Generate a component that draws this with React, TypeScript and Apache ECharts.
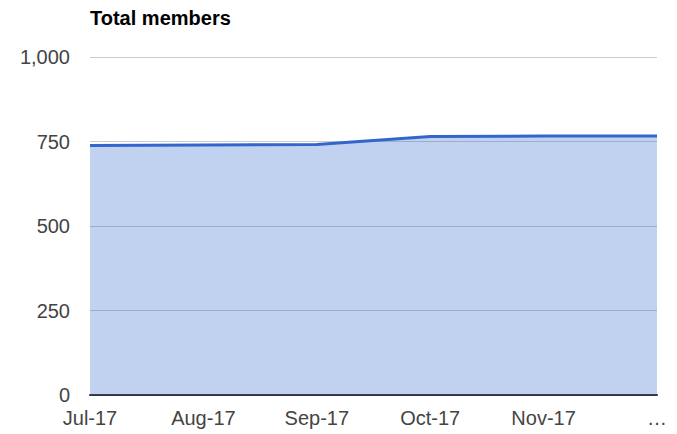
import React, { useEffect, useRef } from "react";
import * as echarts from "echarts";

const categories = ["Jul-17", "Aug-17", "Sep-17", "Oct-17", "Nov-17", "Dec-17"];
const totalMembers = [738, 740, 741, 765, 766, 766];
const yTicks = { min: 0, max: 1000, interval: 250 };

export default function App() {
  const ref = useRef<HTMLDivElement>(null);
  useEffect(() => {
    if (!ref.current) return;
    const chart = echarts.init(ref.current, null, { renderer: "svg" });
    chart.setOption({
      animation: false,
      title: {
        text: "Total members",
        left: 90,
        top: 8,
        padding: 0,
        textStyle: { fontFamily: "Liberation Sans, Arial, sans-serif", fontSize: 20, fontWeight: "bold", color: "#000" },
      },
      grid: { left: 90, right: 20, top: 57, bottom: 39, containLabel: false },
      xAxis: {
        type: "category",
        data: categories,
        boundaryGap: false,
        axisLine: { show: true, lineStyle: { color: "#333", width: 2 } },
        axisTick: { show: false },
        axisLabel: {
          margin: 13,
          fontFamily: "Liberation Sans, Arial, sans-serif",
          fontSize: 20,
          color: "#444",
          showMaxLabel: true,
          showMinLabel: true,
          interval: 0,
          formatter: (v: string, i: number) => (i === categories.length - 1 ? "…" : v),
        },
        splitLine: { show: false },
      },
      yAxis: {
        type: "value",
        min: yTicks.min,
        max: yTicks.max,
        interval: yTicks.interval,
        axisLine: { show: false },
        axisTick: { show: false },
        axisLabel: {
          margin: 20,
          fontFamily: "Liberation Sans, Arial, sans-serif",
          fontSize: 20,
          color: "#444",
          formatter: (v: number) => v.toLocaleString("en-US"),
        },
        splitLine: { show: true, lineStyle: { color: "#cccccc", width: 1 } },
      },
      series: [
        {
          type: "line",
          data: totalMembers,
          symbol: "none",
          smooth: false,
          lineStyle: { color: "#3366cc", width: 3 },
          itemStyle: { color: "#3366cc" },
          areaStyle: { color: "#3366cc", opacity: 0.3 },
        },
      ],
    });
    return () => chart.dispose();
  }, []);
  return <div ref={ref} style={{ width: 677, height: 434, position: "absolute", left: 0, top: 0 }} />;
}
